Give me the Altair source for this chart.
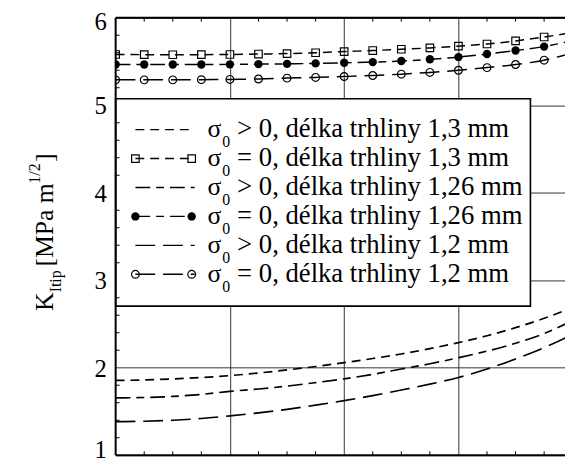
import altair as alt
import pandas as pd

# ---------------- data ----------------
x_k = [0.0, 0.25, 0.5, 0.75, 1.0, 1.25, 1.5, 1.75, 2.0, 2.25, 2.5, 2.75, 3.0, 3.25, 3.5, 3.75, 4.0]

# sigma_0 = 0 (with markers)
k_13_zero = [5.58, 5.578, 5.577, 5.578, 5.58, 5.585, 5.59, 5.60, 5.613, 5.625, 5.64, 5.655, 5.675, 5.70, 5.735, 5.78, 5.83]
k_126_zero = [5.465, 5.465, 5.465, 5.466, 5.467, 5.47, 5.473, 5.478, 5.485, 5.493, 5.505, 5.525, 5.55, 5.585, 5.625, 5.67, 5.74]
k_12_zero = [5.29, 5.29, 5.29, 5.292, 5.295, 5.30, 5.31, 5.318, 5.328, 5.34, 5.355, 5.375, 5.40, 5.43, 5.465, 5.515, 5.60]

# sigma_0 > 0
k_13_pos = [1.855, 1.86, 1.872, 1.888, 1.91, 1.94, 1.975, 2.014, 2.058, 2.105, 2.157, 2.218, 2.287, 2.365, 2.458, 2.565, 2.69]
k_126_pos = [1.655, 1.66, 1.672, 1.695, 1.73, 1.757, 1.79, 1.83, 1.873, 1.925, 1.985, 2.045, 2.114, 2.19, 2.28, 2.39, 2.54]
k_12_pos = [1.384, 1.388, 1.40, 1.42, 1.45, 1.485, 1.525, 1.572, 1.624, 1.682, 1.745, 1.813, 1.888, 1.985, 2.10, 2.23, 2.38]

y_ticks = [1, 2, 3, 4, 5, 6]
y_tick_labels = ["1", "2", "3", "4", "5", "6"]
x_grid = [1, 2, 3]
x_minor = [0.25, 0.5, 0.75, 1.25, 1.5, 1.75, 2.25, 2.5, 2.75, 3.25, 3.5, 3.75]
y_minor = [1.2, 1.4, 1.6, 1.8, 2.2, 2.4, 2.6, 2.8, 3.2, 3.4, 3.6, 3.8,
           4.2, 4.4, 4.6, 4.8, 5.2, 5.4, 5.6, 5.8]

legend_rel = ["> 0, délka trhliny 1,3 mm",
              "= 0, délka trhliny 1,3 mm",
              "> 0, délka trhliny 1,26 mm",
              "= 0, délka trhliny 1,26 mm",
              "> 0, délka trhliny 1,2 mm",
              "= 0, délka trhliny 1,2 mm"]

# ---------------- layout / style ----------------
UNIT = 115.7
W = 455
H = 443
XMAX = W / UNIT
FONT = "Liberation Serif"

DASH_13 = [9, 6]
DASH_126 = [15, 6, 8, 6]
DASH_12 = [20, 8]

X = alt.X("x:Q", scale=alt.Scale(domain=[0, XMAX], nice=False, zero=False),
          axis=alt.Axis(values=x_grid, grid=True, gridColor="#333333", gridWidth=1,
                        labels=False, ticks=False, domain=False, title=None))
Y = alt.Y("k:Q", scale=alt.Scale(domain=[1, 6], nice=False, zero=False),
          axis=alt.Axis(values=y_ticks, grid=True, gridColor="#333333", gridWidth=1,
                        labels=False, ticks=False, domain=False, title=None))

layers = []

def series_df(vals):
    return pd.DataFrame({"x": x_k, "k": vals})

# lower curves (sigma_0 > 0)
for vals, dash in [(k_13_pos, DASH_13), (k_126_pos, DASH_126), (k_12_pos, DASH_12)]:
    layers.append(alt.Chart(series_df(vals)).mark_line(
        color="black", strokeWidth=1.7, strokeDash=dash, clip=True,
        interpolate="monotone").encode(x=X, y=Y))

# upper curves (sigma_0 = 0) with markers
marker_specs = [
    (k_13_zero, DASH_13, dict(shape="square", size=58, filled=False, strokeWidth=1.2)),
    (k_126_zero, DASH_126, dict(shape="circle", size=72, filled=True)),
    (k_12_zero, DASH_12, dict(shape="circle", size=62, filled=False, strokeWidth=1.2)),
]
for vals, dash, mk in marker_specs:
    d = series_df(vals)
    layers.append(alt.Chart(d).mark_line(
        color="black", strokeWidth=1.5, strokeDash=dash, clip=True,
        interpolate="monotone").encode(x=X, y=Y))
    layers.append(alt.Chart(d).mark_point(color="black", opacity=1, clip=True, **mk)
                  .encode(x=X, y=Y))

dummy = pd.DataFrame({"a": [0]})

# legend box
layers.append(alt.Chart(dummy).mark_rect(fill="white", stroke="black", strokeWidth=1.6).encode(
    x=alt.value(0), x2=alt.value(420), y=alt.value(82), y2=alt.value(292)))

row_dash = [DASH_13, DASH_13, DASH_126, DASH_126, DASH_12, DASH_12]
row_marker = [None, marker_specs[0][2], None, marker_specs[1][2], None, marker_specs[2][2]]
for i, rel in enumerate(legend_rel):
    yc = 113.3 + 29.3 * i
    yb = yc + 7.5
    layers.append(alt.Chart(dummy).mark_rule(color="black", strokeWidth=1.4, strokeDash=row_dash[i]).encode(
        x=alt.value(20), x2=alt.value(80), y=alt.value(yc)))
    if row_marker[i] is not None:
        for xm in (20, 77):
            layers.append(alt.Chart(dummy).mark_point(color="black", opacity=1, **row_marker[i]).encode(
                x=alt.value(xm), y=alt.value(yc)))
    layers.append(alt.Chart(dummy).mark_text(text="σ", font=FONT, fontSize=26, align="left",
                                             baseline="alphabetic", color="black").encode(
        x=alt.value(93), y=alt.value(yb)))
    layers.append(alt.Chart(dummy).mark_text(text="0", font=FONT, fontSize=16, align="left",
                                             baseline="alphabetic", color="black").encode(
        x=alt.value(108), y=alt.value(yb + 10)))
    layers.append(alt.Chart(dummy).mark_text(text=rel, font=FONT, fontSize=27, align="left",
                                             baseline="alphabetic", color="black").encode(
        x=alt.value(123), y=alt.value(yb)))

# minor ticks (inward)
dfx = pd.DataFrame({"x": x_minor})
dfy = pd.DataFrame({"k": y_minor})
layers.append(alt.Chart(dfx).mark_rule(color="black", strokeWidth=1).encode(
    x=X, y=alt.value(0), y2=alt.value(4)))
layers.append(alt.Chart(dfx).mark_rule(color="black", strokeWidth=1).encode(
    x=X, y=alt.value(H), y2=alt.value(H - 4)))
layers.append(alt.Chart(dfy).mark_rule(color="black", strokeWidth=1).encode(
    y=Y, x=alt.value(0), x2=alt.value(4)))

# frame (top, bottom, left)
layers.append(alt.Chart(pd.DataFrame({"k": [1, 6]})).mark_rule(color="black", strokeWidth=2).encode(y=Y))
layers.append(alt.Chart(pd.DataFrame({"x": [0]})).mark_rule(color="black", strokeWidth=2).encode(x=X))

# y tick labels (drawn through the y scale; end labels nudged to stay visible)
lab = pd.DataFrame({"k": y_ticks, "t": y_tick_labels})
for sub, dy in [(lab[(lab.k > 1) & (lab.k < 6)], 1), (lab[lab.k == 6], 4), (lab[lab.k == 1], -5)]:
    layers.append(alt.Chart(sub).mark_text(font=FONT, fontSize=25, align="right", baseline="middle",
                                           color="black", dy=dy).encode(
        y=Y, x=alt.value(-9), text="t:N"))

# y-axis title pieces (rotated)
title_parts = [
    ("K", 26, -71, 297),
    ("Itip", 16, -60, 278),
    ("[MPa m", 26, -71, 252),
    ("1/2", 16, -82, 168),
    ("]", 26, -71, 146),
]
for txt, fs, xv, yv in title_parts:
    layers.append(alt.Chart(dummy).mark_text(text=txt, font=FONT, fontSize=fs, angle=270,
                                             align="left", baseline="middle", color="black").encode(
        x=alt.value(xv), y=alt.value(yv)))

chart = alt.layer(*layers).properties(
    width=W, height=H,
    autosize=alt.AutoSizeParams(type="none"),
    padding={"left": 109, "top": 7, "right": 0, "bottom": 4},
    background="white",
).configure_view(stroke=None)

chart.save("out.html", embed_options={"renderer": "svg", "actions": False})
